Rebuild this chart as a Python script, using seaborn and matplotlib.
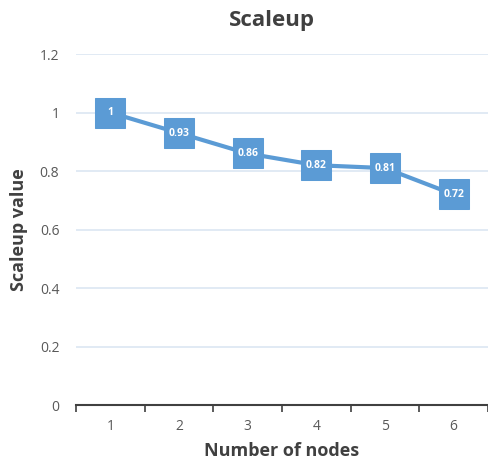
import matplotlib
matplotlib.use("Agg")
import matplotlib.pyplot as plt
import seaborn as sns
import pandas as pd
import numpy as np

nodes = [1, 2, 3, 4, 5, 6]
scaleup = [1.0, 0.93, 0.86, 0.82, 0.81, 0.72]
labels = ["1", "0.93", "0.86", "0.82", "0.81", "0.72"]
yticks = [0, 0.2, 0.4, 0.6, 0.8, 1.0, 1.2]
ytick_labels = ["0", "0.2", "0.4", "0.6", "0.8", "1", "1.2"]

sns.set_theme(style="white")
plt.rcParams['font.family'] = ['Open Sans', 'DejaVu Sans']

df = pd.DataFrame({"nodes": nodes, "scaleup": scaleup})
fig = plt.figure(figsize=(4.88, 4.66), dpi=100)
ax = fig.add_axes([0.1557, 0.1309, 0.8443, 0.7531])
color = "#5B9BD5"
sns.lineplot(data=df, x="nodes", y="scaleup", ax=ax, color=color, linewidth=3,
             marker="s", markersize=21, markeredgecolor=color, markerfacecolor=color)
for x, y, t in zip(nodes, scaleup, labels):
    ax.text(x, y, t, ha="center", va="center", color="white", fontsize=7.5, fontweight="bold")

ax.set_xlim(0.5, 6.5)
ax.set_ylim(0, 1.2)
ax.set_yticks(yticks)
ax.set_yticklabels(ytick_labels)
ax.set_xticks(nodes)
ax.set_xticks(np.arange(0.5, 6.6, 1), minor=True)
ax.tick_params(axis="x", which="major", bottom=False, length=0, pad=10, labelsize=10, labelcolor="#595959")
ax.tick_params(axis="x", which="minor", bottom=True, length=5, width=1.2, color="#404040", direction="out")
ax.tick_params(axis="y", left=False, length=0, pad=12, labelsize=10, labelcolor="#595959")
ax.grid(axis="y", color="#DCE6F2", linewidth=1.2)
ax.set_axisbelow(True)
for s in ["top", "right", "left"]:
    ax.spines[s].set_visible(False)
ax.spines["bottom"].set_color("#404040")
ax.spines["bottom"].set_linewidth(1.5)
ax.set_xlabel("Number of nodes", fontsize=13, fontweight="bold", color="#404040", labelpad=6)
ax.set_ylabel("Scaleup value", fontsize=13, fontweight="bold", color="#404040")
ax.yaxis.set_label_coords(-0.117, 0.5)
fig.text(0.5566, 0.957, "Scaleup", ha="center", va="center", fontsize=16, fontweight="bold", color="#404040")
fig.savefig("out.png", dpi=100)
